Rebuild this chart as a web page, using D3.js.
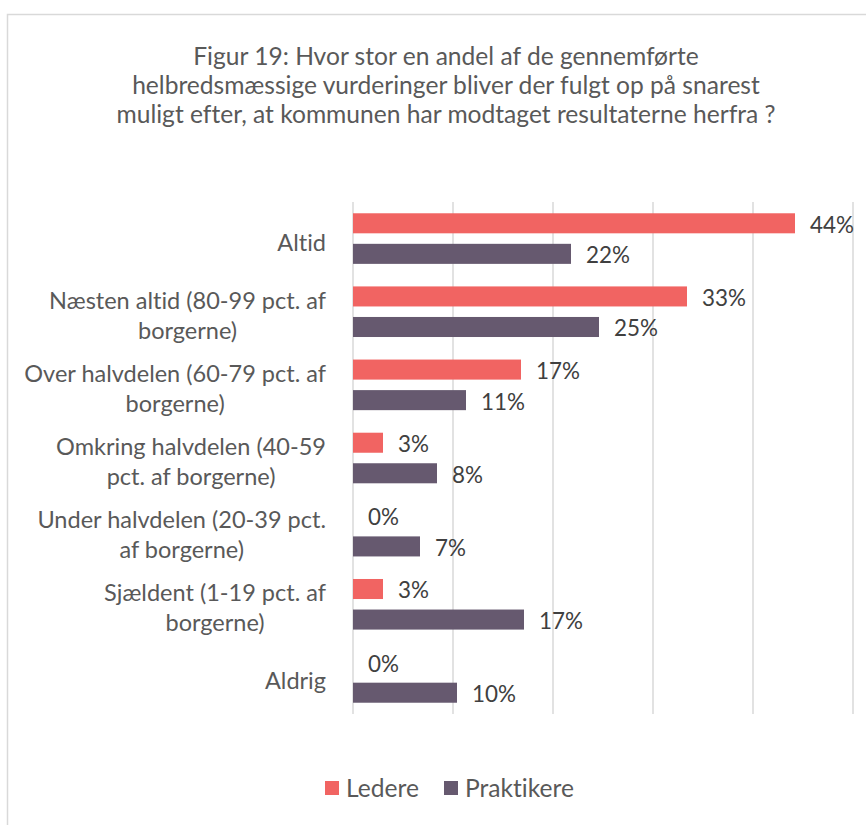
<!DOCTYPE html>
<html>
<head>
<meta charset="utf-8">
<script src="https://cdn.jsdelivr.net/npm/d3@7"></script>
<style>
  body { margin: 0; background: #fff; }
  svg text { font-variant-ligatures: none; }
</style>
</head>
<body>
<div id="chart"></div>
<script>
// Data
const categories = [
  ["Altid"],
  ["Næsten altid (80-99 pct. af", "borgerne)"],
  ["Over halvdelen (60-79 pct. af", "borgerne)"],
  ["Omkring halvdelen (40-59", "pct. af borgerne)"],
  ["Under halvdelen (20-39 pct.", "af borgerne)"],
  ["Sjældent (1-19 pct. af", "borgerne)"],
  ["Aldrig"]
];
const seriesNames = ["Ledere", "Praktikere"];
const ledere = [0.442, 0.334, 0.168, 0.030, 0.0, 0.030, 0.0];
const praktikere = [0.218, 0.246, 0.113, 0.084, 0.067, 0.171, 0.104];
const xTicks = [0, 0.1, 0.2, 0.3, 0.4, 0.5];
const titleLines = [
  "Figur 19: Hvor stor en andel af de gennemførte",
  "helbredsmæssige vurderinger bliver der fulgt op på snarest",
  "muligt efter, at kommunen har modtaget resultaterne herfra ?"
];

const colors = { "Ledere": "#F16462", "Praktikere": "#66596F" };
const font = "Lato, 'Noto Sans', sans-serif";

const width = 866;
const height = 825;

const svg = d3.select("#chart")
  .append("svg")
  .attr("width", width)
  .attr("height", height)
  .style("font-family", font);

// pick a font size so a sample string has the wanted width
function fitSize(text, target) {
  const t = svg.append("text").attr("font-size", 100).text(text);
  const w = t.node().getComputedTextLength();
  t.remove();
  return 100 * target / w;
}
const titleSize = fitSize(titleLines[1], 628);
const catSize = fitSize(categories[1][0], 277);
const valSize = fitSize("44%", 44);
const legSize = fitSize("Praktikere", 109);

// chart area border
svg.append("rect")
  .attr("x", 7.5).attr("y", 14.5)
  .attr("width", 900).attr("height", 900)
  .attr("fill", "none")
  .attr("stroke", "#d9d9d9")
  .attr("stroke-width", 1.5);

// title
svg.append("g")
  .selectAll("text")
  .data(titleLines)
  .enter()
  .append("text")
  .attr("x", 446)
  .attr("y", (d, i) => 65 + i * 29)
  .attr("text-anchor", "middle")
  .attr("font-size", titleSize)
  .attr("fill", "#595959")
  .text(d => d);

const data = categories.map((c, i) => ({
  lines: c,
  values: [
    { key: "Ledere", value: ledere[i] },
    { key: "Praktikere", value: praktikere[i] }
  ]
}));

const x = d3.scaleLinear().domain([0, 0.5]).range([353, 853]);
const y = d3.scaleBand().domain(d3.range(categories.length)).range([202, 714]);
const ySub = d3.scaleBand()
  .domain(seriesNames)
  .range([0, y.bandwidth()])
  .paddingInner(0.344)
  .paddingOuter(0.369);

// gridlines
svg.append("g")
  .selectAll("line")
  .data(xTicks)
  .enter()
  .append("line")
  .attr("x1", d => x(d)).attr("x2", d => x(d))
  .attr("y1", 202).attr("y2", 714)
  .attr("stroke", "#d9d9d9")
  .attr("stroke-width", 1.5);

// bars
const groups = svg.append("g")
  .selectAll("g")
  .data(data)
  .enter()
  .append("g")
  .attr("transform", (d, i) => `translate(0,${y(i)})`);

groups.selectAll("rect")
  .data(d => d.values)
  .enter()
  .append("rect")
  .attr("x", x(0))
  .attr("y", d => ySub(d.key))
  .attr("width", d => x(d.value) - x(0))
  .attr("height", ySub.bandwidth())
  .attr("fill", d => colors[d.key]);

groups.selectAll("text.val")
  .data(d => d.values)
  .enter()
  .append("text")
  .attr("class", "val")
  .attr("x", d => x(d.value) + 15)
  .attr("y", d => ySub(d.key) + ySub.bandwidth() / 2 + 9.5)
  .attr("font-size", valSize)
  .attr("fill", "#404040")
  .text(d => d3.format(".0%")(d.value));

// category labels: block right aligned, lines centred within it
const catG = svg.append("g").attr("font-size", catSize).attr("fill", "#595959");
data.forEach((d, i) => {
  const tmp = catG.append("text");
  let maxW = 0;
  d.lines.forEach(l => {
    tmp.text(l);
    maxW = Math.max(maxW, tmp.node().getComputedTextLength());
  });
  tmp.remove();
  const cx = 326 - maxW / 2;
  const cy = y(i) + y.bandwidth() / 2;
  const n = d.lines.length;
  d.lines.forEach((l, j) => {
    catG.append("text")
      .attr("x", cx)
      .attr("y", cy + 12 + (j - (n - 1) / 2) * 30)
      .attr("text-anchor", "middle")
      .text(l);
  });
});

// legend
const legendX = [325, 444];
const legend = svg.append("g")
  .selectAll("g")
  .data(seriesNames)
  .enter()
  .append("g")
  .attr("transform", (d, i) => `translate(${legendX[i]},781)`);

legend.append("rect")
  .attr("width", 14).attr("height", 14)
  .attr("fill", d => colors[d]);

legend.append("text")
  .attr("x", 21)
  .attr("y", 16)
  .attr("font-size", legSize)
  .attr("fill", "#595959")
  .text(d => d);
</script>
</body>
</html>
